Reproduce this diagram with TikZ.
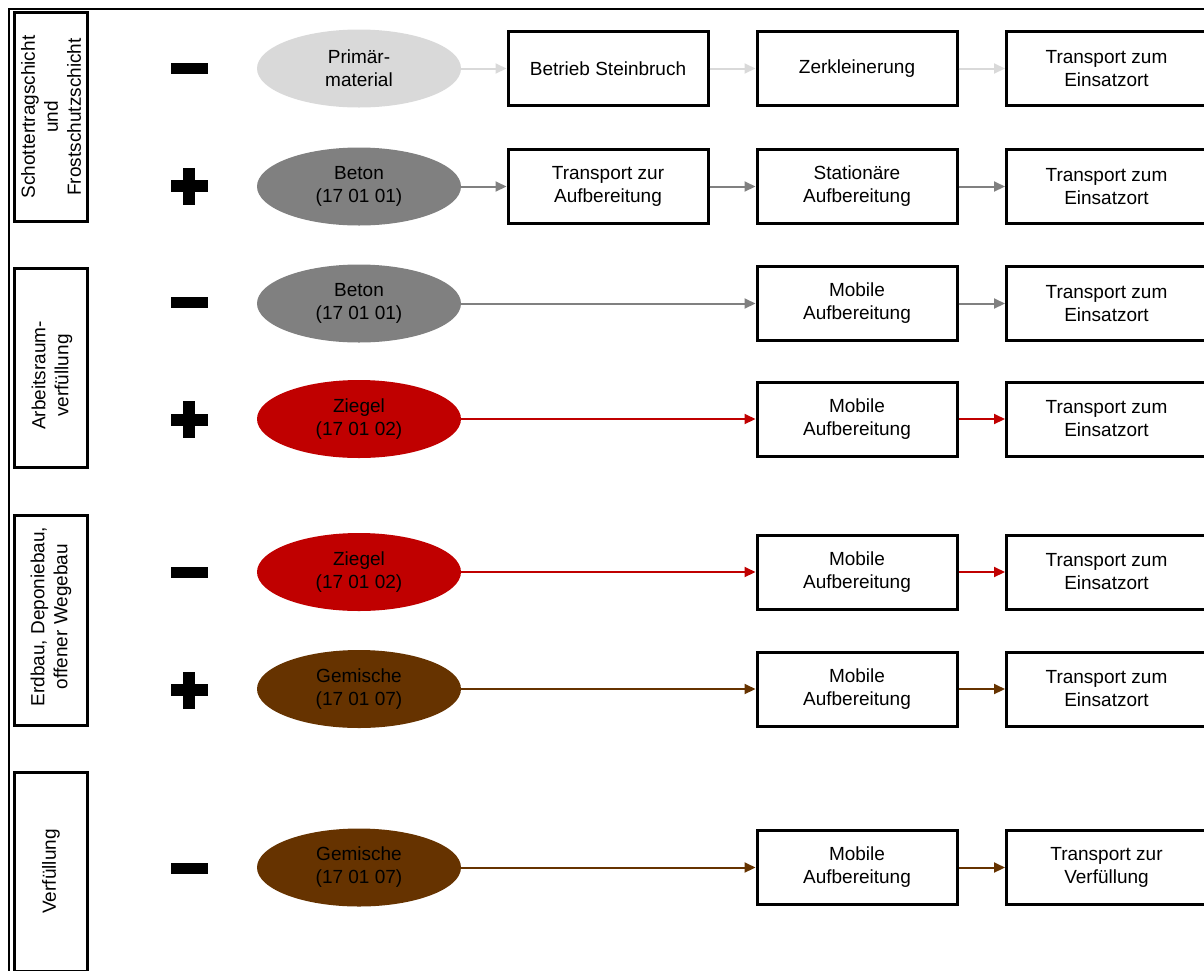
\documentclass[tikz,border=0pt]{standalone}
\usepackage{fontspec}
\setmainfont{Liberation Sans}
\usetikzlibrary{shapes.geometric,arrows.meta}
\definecolor{lgray}{HTML}{D9D9D9}
\definecolor{mgray}{HTML}{808080}
\definecolor{zred}{HTML}{C00000}
\definecolor{gbrown}{HTML}{663300}
\begin{document}
\begin{tikzpicture}[x=1pt,y=-1pt,
  txt/.style={font=\fontsize{19}{23}\selectfont, align=center, text=black},
  procbox/.style={txt, draw=black, line width=3pt, rectangle, minimum width=200pt, minimum height=74pt, inner sep=0pt, fill=white},
  matell/.style={txt, ellipse, minimum width=204pt, minimum height=78pt, inner sep=0pt},
  labbox/.style={txt, draw=black, line width=3pt, rectangle, rotate=90, minimum height=73pt, inner sep=0pt},
  labtext/.style={txt, rotate=90, inner sep=0pt},
  conn/.style={line width=2pt, -{Triangle[length=11pt,width=10pt]}},
  sign/.style={fill=black}
]
\useasboundingbox (0,0) rectangle (1204,970);
\clip (0,0) rectangle (1204,970);

% outer frame
\draw[line width=2pt] (8.5,980) -- (8.5,8.5) -- (1215,8.5);

% left labels
\node[labbox, minimum width=209pt] (L1) at (51,117) {Schottertragschicht\\und\\Frostschutzschicht};
\node[labbox, minimum width=199pt] (L2) at (51,368) {};
\node[labtext] (L2t) at (52,375.5) {Arbeitsraum-\\verfüllung};
\node[labbox, minimum width=210pt] (L3) at (51,620.5) {};
\node[labtext] (L3t) at (51,616.5) {Erdbau, Deponiebau,\\offener Wegebau};
\node[labbox, minimum width=199pt] (L4) at (51,871.5) {Verfüllung};

% signs
\fill[sign] (170.5,63) rectangle (207.5,74);
\fill[sign] (170.5,180) rectangle (207.5,192);
\fill[sign] (183,167.5) rectangle (195,204.5);
\fill[sign] (170.5,296.5) rectangle (207.5,307.5);
\fill[sign] (170.5,413.5) rectangle (207.5,425.5);
\fill[sign] (183,401) rectangle (195,438);
\fill[sign] (170.5,566.5) rectangle (207.5,577.5);
\fill[sign] (170.5,684) rectangle (207.5,696);
\fill[sign] (183,671.5) rectangle (195,708.5);
\fill[sign] (170.5,862.5) rectangle (207.5,873.5);

% row 1
\node[matell, fill=lgray] (e1) at (359,68.5) {Primär-\\material};
\node[procbox] (a1) at (608,68.5) {Betrieb Steinbruch};
\node[procbox] (b1) at (857,68.5) {Zerkleinerung};
\node[procbox] (c1) at (1106.5,68.5) {Transport zum\\Einsatzort};
\draw[conn, lgray] (e1) -- (a1);
\draw[conn, lgray] (a1) -- (b1);
\draw[conn, lgray] (b1) -- (c1);

% row 2
\node[matell, fill=mgray] (e2) at (359,186.5) {Beton\\(17 01 01)};
\node[procbox] (a2) at (608,186.5) {Transport zur\\Aufbereitung};
\node[procbox] (b2) at (857,186.5) {Stationäre\\Aufbereitung};
\node[procbox] (c2) at (1106.5,186.5) {Transport zum\\Einsatzort};
\draw[conn, mgray] (e2) -- (a2);
\draw[conn, mgray] (a2) -- (b2);
\draw[conn, mgray] (b2) -- (c2);

% row 3
\node[matell, fill=mgray] (e3) at (359,303.5) {Beton\\(17 01 01)};
\node[procbox] (b3) at (857,303.5) {Mobile\\Aufbereitung};
\node[procbox] (c3) at (1106.5,303.5) {Transport zum\\Einsatzort};
\draw[conn, mgray] (e3) -- (b3);
\draw[conn, mgray] (b3) -- (c3);

% row 4
\node[matell, fill=zred] (e4) at (359,419) {Ziegel\\(17 01 02)};
\node[procbox] (b4) at (857,419) {Mobile\\Aufbereitung};
\node[procbox] (c4) at (1106.5,419) {Transport zum\\Einsatzort};
\draw[conn, zred] (e4) -- (b4);
\draw[conn, zred] (b4) -- (c4);

% row 5
\node[matell, fill=zred] (e5) at (359,572) {Ziegel\\(17 01 02)};
\node[procbox] (b5) at (857,572) {Mobile\\Aufbereitung};
\node[procbox] (c5) at (1106.5,572) {Transport zum\\Einsatzort};
\draw[conn, zred] (e5) -- (b5);
\draw[conn, zred] (b5) -- (c5);

% row 6
\node[matell, fill=gbrown] (e6) at (359,689) {Gemische\\(17 01 07)};
\node[procbox] (b6) at (857,689) {Mobile\\Aufbereitung};
\node[procbox] (c6) at (1106.5,689) {Transport zum\\Einsatzort};
\draw[conn, gbrown] (e6) -- (b6);
\draw[conn, gbrown] (b6) -- (c6);

% row 7
\node[matell, fill=gbrown] (e7) at (359,867.5) {Gemische\\(17 01 07)};
\node[procbox] (b7) at (857,867.5) {Mobile\\Aufbereitung};
\node[procbox] (c7) at (1106.5,867.5) {Transport zur\\Verfüllung};
\draw[conn, gbrown] (e7) -- (b7);
\draw[conn, gbrown] (b7) -- (c7);
\end{tikzpicture}
\end{document}
